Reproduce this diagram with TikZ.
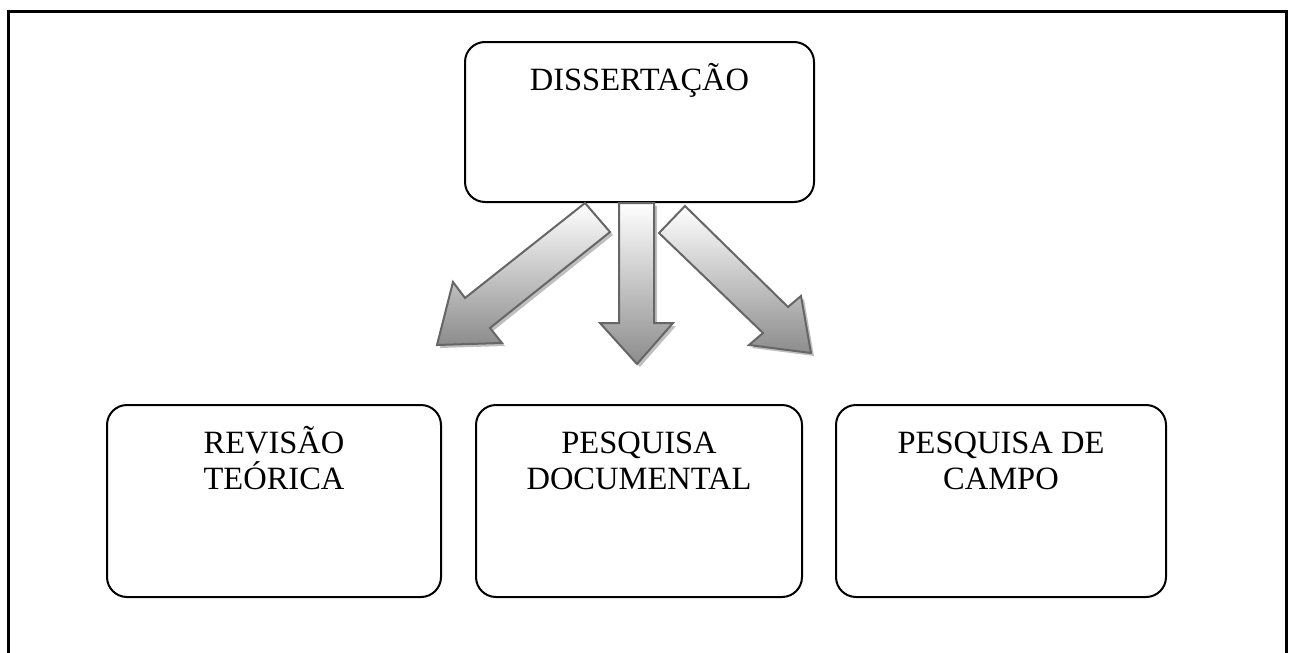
\documentclass[tikz,border=0pt]{standalone}
\usepackage{fontspec}
\setmainfont{Liberation Serif}
\begin{document}
\begin{tikzpicture}[x=1pt,y=-1pt,
  box/.style={draw, line width=2pt, rounded corners=20pt, rectangle, inner sep=0pt},
  lbl/.style={font=\fontsize{32.5}{36}\selectfont, align=center, anchor=base, inner sep=0pt},
  barrow/.style={draw=black!60, line width=2pt, top color=white, bottom color=black!45, line join=miter},
  bshadow/.style={fill=black!25, draw=none}]
\useasboundingbox (0,0) rectangle (1291,653);
\clip (0,0) rectangle (1291,653);
% frame
\draw[line width=3pt] (8,670) -- (8,11) -- (1286,11) -- (1286,670);
% boxes
\node[box, minimum width=349pt, minimum height=160pt] (diss) at (639.5,122) {};
\node[box, minimum width=334pt, minimum height=192pt] (rev) at (274,501) {};
\node[box, minimum width=326pt, minimum height=192pt] (doc) at (639,501) {};
\node[box, minimum width=330pt, minimum height=192pt] (campo) at (1001,501) {};
\node[lbl] (tdiss) at ([yshift=-49pt]diss.north) {DISSERTAÇÃO};
\node[lbl] (trev) at ([yshift=-85pt]rev.north) {REVISÃO\\TEÓRICA};
\node[lbl] (tdoc) at ([yshift=-85pt]doc.north) {PESQUISA\\DOCUMENTAL};
\node[lbl] (tcampo) at ([yshift=-85pt]campo.north) {PESQUISA DE\\CAMPO};
% block arrows: shadows
\begin{scope}[shift={(3,3)}]
\fill[bshadow] (585,203) -- (465,298) -- (453,282) -- (437,345) -- (502,343) -- (490,328) -- (610,232) -- cycle;
\fill[bshadow] (619,203) -- (619,323) -- (600,323) -- (637,364) -- (673,323) -- (654,323) -- (654,203) -- cycle;
\fill[bshadow] (685,206) -- (788,307) -- (801,296) -- (811,353) -- (749,345) -- (763,333) -- (659,233) -- cycle;
\end{scope}
% block arrows
\draw[barrow] (585,203) -- (465,298) -- (453,282) -- (437,345) -- (502,343) -- (490,328) -- (610,232) -- cycle;
\draw[barrow] (619,203) -- (619,323) -- (600,323) -- (637,364) -- (673,323) -- (654,323) -- (654,203) -- cycle;
\draw[barrow] (685,206) -- (788,307) -- (801,296) -- (811,353) -- (749,345) -- (763,333) -- (659,233) -- cycle;
\end{tikzpicture}
\end{document}
